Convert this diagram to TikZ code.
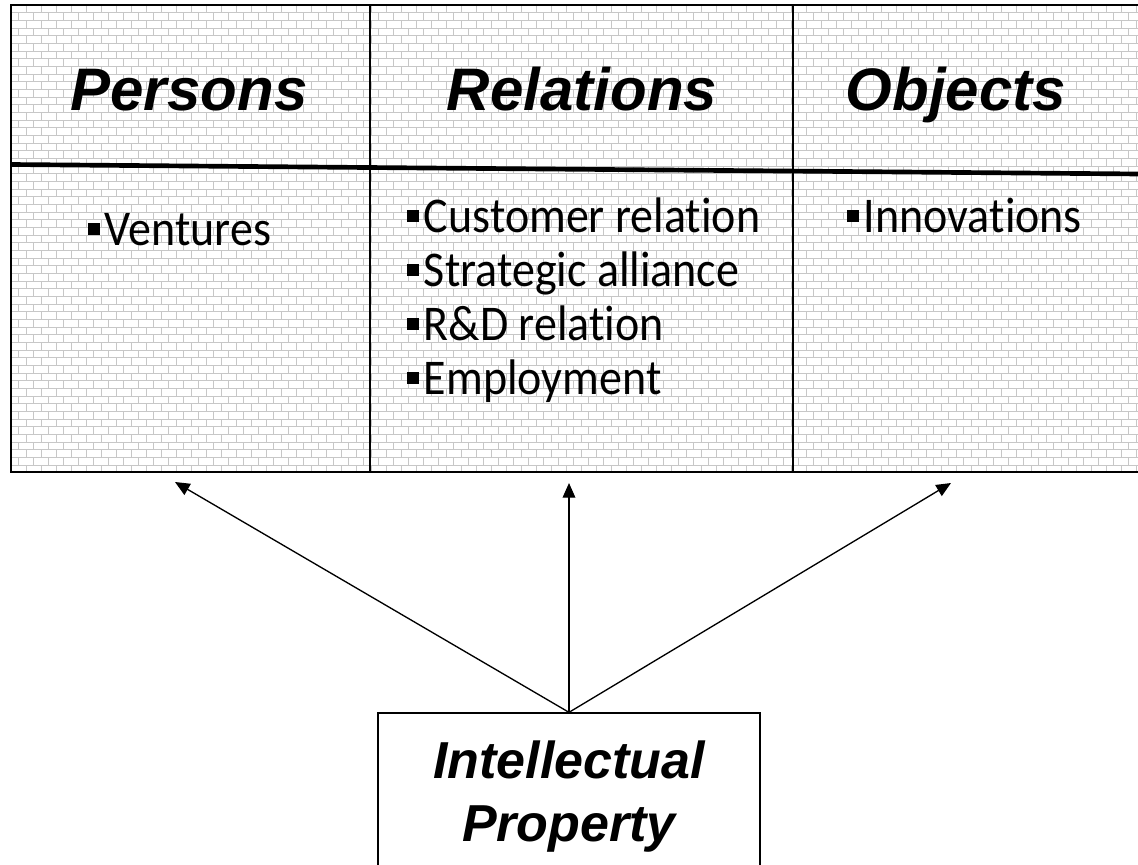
\documentclass[tikz,border=0pt]{standalone}
\usepackage{fontspec}
\setmainfont{Carlito}[FakeStretch=0.92, Ligatures=NoCommon]
\newfontfamily\headfont{Liberation Sans}
\usetikzlibrary{arrows.meta}
\tikzset{
 brick/.style={draw=black!22, line width=0.6pt},
 head/.style={font=\headfont\bfseries\itshape\fontsize{45}{54}\selectfont, anchor=base, inner sep=0pt},
 item/.style={font=\fontsize{37.5}{40.5}\selectfont, anchor=base west, inner sep=0pt},
 conn/.style={line width=1pt, -{Triangle[length=11pt,width=9.5pt]}},
 ipbox/.style={draw, line width=1pt, minimum width=286.5pt, minimum height=125.25pt, align=center, inner sep=0pt,
   font=\headfont\bfseries\itshape\fontsize{39}{47.25}\selectfont},
 frame/.style={line width=1.3pt},
 divider/.style={line width=1.2pt},
 thickrule/.style={line width=3.5pt}
}
\newcommand\bul{\rule[7.75pt]{8.5pt}{8.5pt}\hspace{4pt}}
\begin{document}
\begin{tikzpicture}[x=0.75pt,y=-0.75pt]
\useasboundingbox (0,0) rectangle (1138,864);
% brick background
\begin{scope}
\clip (11,5) rectangle (1140,472);
\fill[white] (11,5) rectangle (1140,472);
\foreach \r in {0,...,61}{
  \pgfmathsetmacro\yy{5+\r*7.667}
  \pgfmathsetmacro\off{mod(\r,2)*7.5}
  \draw[brick] (11,\yy) -- (1140,\yy);
  \draw[brick] \foreach \x in {0,...,76} {(11+\off+\x*15,\yy) -- ++(0,7.667)};
}
\end{scope}
% table lines
\draw[frame] (1140,5) -- (11,5) -- (11,472) -- (1140,472);
\draw[divider] (370,5) -- (370,472);
\draw[divider] (793,5) -- (793,472);
\draw[thickrule] (11,164.5) -- (1140,174);
% headers
\node[head] (hp) at (189,110) {Persons};
\node[head] (hr) at (582,110) {Relations};
\node[head] (ho) at (956,110) {Objects};
% items
\node[item] (ven) at (88,245) {\bul Ventures};
\node[item] (r1) at (407,232) {\bul Customer relation};
\node[item] (r2) at (407,286) {\bul Strategic alliance};
\node[item] (r3) at (407,340) {\bul R\&D relation};
\node[item] (r4) at (407,394) {\bul Employment};
\node[item] (inn) at (847,232) {\bul Innovations};
% IP box
\node[ipbox] (ip) at (569,796.5) {Intellectual\\Property};
\coordinate (tp) at (175,482);
\coordinate (tr) at (569,483);
\coordinate (to) at (951,483);
\draw[conn] (ip.north) -- (tp);
\draw[conn] (ip.north) -- (tr);
\draw[conn] (ip.north) -- (to);
\end{tikzpicture}
\end{document}
